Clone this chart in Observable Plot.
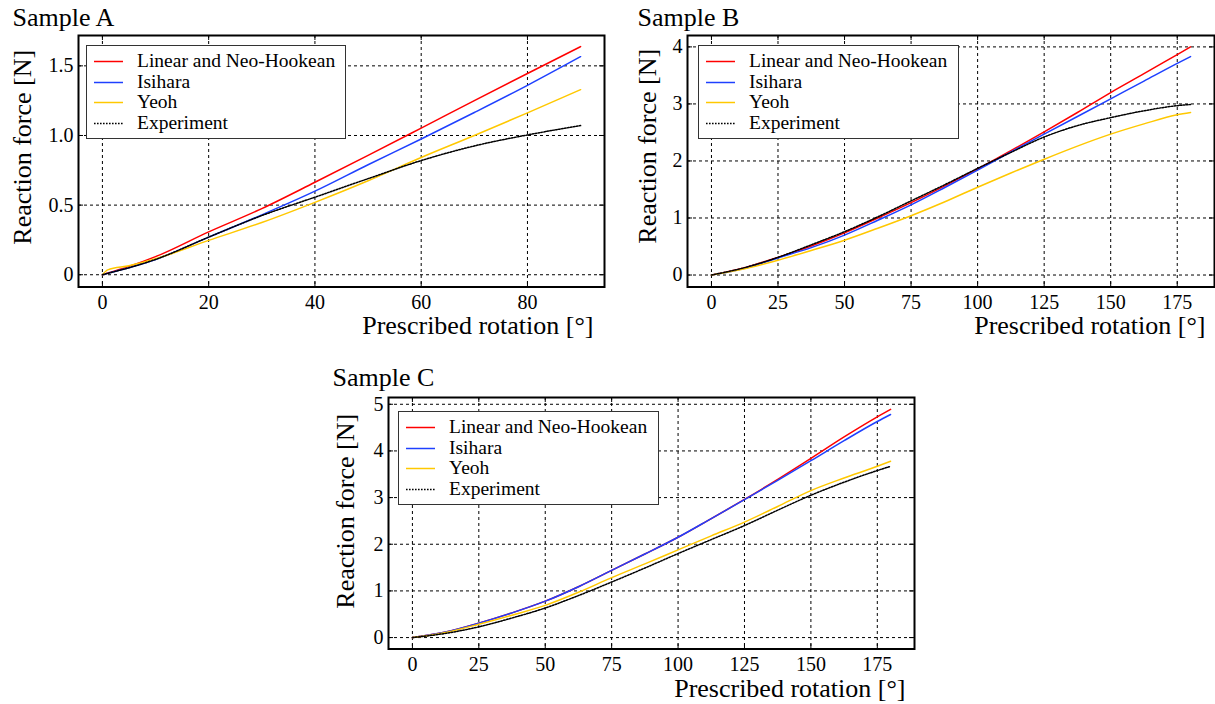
<!DOCTYPE html>
<html>
<head>
<meta charset="utf-8">
<script src="https://cdn.jsdelivr.net/npm/d3@7"></script>
<script src="https://cdn.jsdelivr.net/npm/@observablehq/plot@0.6"></script>
<style>
  body { margin: 0; background: #fff; }
  #wrap { position: relative; width: 1215px; height: 704px; overflow: hidden; font-family: "Liberation Serif", serif; }
  .panel { position: absolute; }
  .legend { position: absolute; background: #fff; border: 1px solid #333; box-sizing: border-box; }
  .legend .row { position: absolute; height: 20px; left: 0; right: 0; }
  .legend .row svg { position: absolute; top: 0; }
  .legend .row span { position: absolute; top: 0; line-height: 20px; font-size: 19.5px; color: #000; white-space: nowrap; }
</style>
</head>
<body>
<div id="wrap"></div>
<script>
// ---------------- data ----------------
const seriesNames = ["Linear and Neo-Hookean", "Isihara", "Yeoh", "Experiment"];
const seriesColors = ["#ff0000", "#1e40ff", "#ffc800", "#000000"];

// Sample A
const rotationA   = [0, 1, 5, 10, 20, 30, 40, 50, 60, 70, 80, 90];
const linearA     = [0, 0.012, 0.06, 0.13, 0.308, 0.475, 0.664, 0.857, 1.053, 1.25, 1.445, 1.638];
const isiharaA    = [0, 0.01, 0.05, 0.11, 0.27, 0.43, 0.60, 0.79, 0.975, 1.165, 1.36, 1.566];
const yeohA       = [0, 0.035, 0.065, 0.115, 0.247, 0.375, 0.52, 0.675, 0.842, 1.0, 1.162, 1.329];
const experimentA = [0, 0.01, 0.05, 0.11, 0.27, 0.425, 0.557, 0.69, 0.82, 0.925, 1.004, 1.071];

// Sample B
const rotationB   = [0, 12.5, 25, 37.5, 50, 62.5, 75, 87.5, 100, 112.5, 125, 137.5, 150, 162.5, 175, 180];
const linearB     = [0, 0.13, 0.31, 0.51, 0.74, 1.0, 1.27, 1.56, 1.86, 2.18, 2.51, 2.85, 3.20, 3.53, 3.866, 4.0];
const isiharaB    = [0, 0.12, 0.30, 0.48, 0.70, 0.96, 1.23, 1.53, 1.84, 2.16, 2.47, 2.78, 3.09, 3.40, 3.71, 3.83];
const yeohB       = [0, 0.11, 0.26, 0.43, 0.61, 0.82, 1.04, 1.28, 1.54, 1.79, 2.03, 2.26, 2.47, 2.65, 2.81, 2.85];
const experimentB = [0, 0.13, 0.31, 0.53, 0.76, 1.02, 1.30, 1.58, 1.87, 2.15, 2.42, 2.62, 2.76, 2.88, 2.97, 2.99];

// Sample C
const rotationC   = [0, 12.5, 25, 37.5, 50, 62.5, 75, 87.5, 100, 112.5, 125, 137.5, 150, 162.5, 175, 180];
const linearC     = [0, 0.12, 0.31, 0.53, 0.78, 1.09, 1.44, 1.79, 2.15, 2.55, 2.96, 3.39, 3.84, 4.30, 4.73, 4.89];
const isiharaC    = [0, 0.12, 0.31, 0.53, 0.78, 1.09, 1.44, 1.79, 2.15, 2.55, 2.955, 3.37, 3.79, 4.22, 4.63, 4.78];
const yeohC       = [0, 0.11, 0.285, 0.48, 0.69, 0.97, 1.285, 1.58, 1.88, 2.18, 2.475, 2.81, 3.15, 3.42, 3.67, 3.78];
const experimentC = [0, 0.09, 0.23, 0.42, 0.634, 0.90, 1.19, 1.49, 1.80, 2.10, 2.40, 2.73, 3.05, 3.33, 3.58, 3.67];

// ticks
const xTicksA = [0, 20, 40, 60, 80];
const yTicksA = [0, 0.5, 1.0, 1.5];
const xTicksB = [0, 25, 50, 75, 100, 125, 150, 175];
const yTicksB = [0, 1, 2, 3, 4];
const xTicksC = [0, 25, 50, 75, 100, 125, 150, 175];
const yTicksC = [0, 1, 2, 3, 4, 5];

const titles = ["Sample A", "Sample B", "Sample C"];
const xLabel = "Prescribed rotation [°]";
const yLabel = "Reaction force [N]";

// ---------------- layout ----------------
const FONT = "'Liberation Serif', serif";
const TICK = 5;
const panels = [
  { title: titles[0], rotation: rotationA, series: [linearA, isiharaA, yeohA, experimentA],
    xTicks: xTicksA, yTicks: yTicksA, xDomain: [-4.5, 94.5], yDomain: [-0.088, 1.718],
    yFmt: d => d === 0 ? "0" : d.toFixed(1),
    box: { left: 0, top: 0, width: 620, height: 345 },
    margin: { left: 78, top: 35, right: 16, bottom: 58.5 },
    titlePos: { dx: -66, dy: -10 }, yLabelPos: { dx: -48, dy: -14 }, xLabelPos: { dx: -11, dy: 46.5 },
    legend: { left: 86, top: 45, width: 260, height: 94 } },
  { title: titles[1], rotation: rotationB, series: [linearB, isiharaB, yeohB, experimentB],
    xTicks: xTicksB, yTicks: yTicksB, xDomain: [-9, 189], yDomain: [-0.21, 4.2],
    yFmt: d => String(d),
    box: { left: 620, top: 0, width: 595, height: 345 },
    margin: { left: 67, top: 35, right: 1, bottom: 58.5 },
    titlePos: { dx: -50, dy: -10 }, yLabelPos: { dx: -32, dy: -15 }, xLabelPos: { dx: -9, dy: 46.5 },
    legend: { left: 698, top: 45, width: 261, height: 94 } },
  { title: titles[2], rotation: rotationC, series: [linearC, isiharaC, yeohC, experimentC],
    xTicks: xTicksC, yTicks: yTicksC, xDomain: [-9, 189], yDomain: [-0.245, 5.145],
    yFmt: d => String(d),
    box: { left: 320, top: 360, width: 600, height: 344 },
    margin: { left: 68, top: 37, right: 6, bottom: 55.5 },
    titlePos: { dx: -56, dy: -12 }, yLabelPos: { dx: -35, dy: -12 }, xLabelPos: { dx: -9, dy: 47.5 },
    legend: { left: 398, top: 411, width: 261, height: 94 } }
];

const wrap = document.getElementById("wrap");

function makePanel(p) {
  const fw = p.box.width - p.margin.left - p.margin.right;
  const fh = p.box.height - p.margin.top - p.margin.bottom;
  const lineMarks = p.series.map((vals, i) =>
    Plot.line(p.rotation.map((r, j) => ({ r, f: vals[j] })), {
      x: "r", y: "f",
      stroke: seriesColors[i],
      strokeWidth: 1.5,
      strokeDasharray: i === 3 ? "1.6,1.4" : null,
      curve: "monotone-x"
    })
  );
  const grid = { stroke: "#000", strokeOpacity: 1, strokeWidth: 1, strokeDasharray: "3,3" };
  const tk = { stroke: "#000", strokeWidth: 1 };
  const chart = Plot.plot({
    width: p.box.width,
    height: p.box.height,
    marginLeft: p.margin.left, marginTop: p.margin.top,
    marginRight: p.margin.right, marginBottom: p.margin.bottom,
    style: { fontFamily: FONT, background: "transparent", overflow: "visible" },
    x: { domain: p.xDomain },
    y: { domain: p.yDomain },
    marks: [
      Plot.gridX(p.xTicks, grid),
      Plot.gridY(p.yTicks, grid),
      // inward ticks on all four sides
      Plot.tickX(p.xTicks, { x: d => d, insetTop: fh - TICK, ...tk }),
      Plot.tickX(p.xTicks, { x: d => d, insetBottom: fh - TICK, ...tk }),
      Plot.tickY(p.yTicks, { y: d => d, insetRight: fw - TICK, ...tk }),
      Plot.tickY(p.yTicks, { y: d => d, insetLeft: fw - TICK, ...tk }),
      ...lineMarks,
      Plot.axisX(p.xTicks, { anchor: "bottom", tickSize: 0, tickPadding: 7.5, fontSize: 20, label: null, color: "#000" }),
      Plot.axisY(p.yTicks, { anchor: "left", tickSize: 0, tickPadding: 5, fontSize: 20, label: null, color: "#000", tickFormat: p.yFmt }),
      Plot.frame({ stroke: "#000", strokeWidth: 2 }),
      Plot.text([p.title], { frameAnchor: "top-left", textAnchor: "start", lineAnchor: "bottom",
        dx: p.titlePos.dx, dy: p.titlePos.dy, fontSize: 26, fill: "#000" }),
      Plot.text([xLabel], { frameAnchor: "bottom-right", textAnchor: "end", lineAnchor: "bottom",
        dx: p.xLabelPos.dx, dy: p.xLabelPos.dy, fontSize: 26, fill: "#000" }),
      Plot.text([yLabel], { frameAnchor: "left", textAnchor: "middle", lineAnchor: "bottom", rotate: -90,
        dx: p.yLabelPos.dx, dy: p.yLabelPos.dy, fontSize: 26, fill: "#000" })
    ]
  });
  chart.querySelectorAll("text").forEach(t => t.style.fontFamily = FONT);
  const holder = document.createElement("div");
  holder.className = "panel";
  holder.style.left = p.box.left + "px";
  holder.style.top = p.box.top + "px";
  holder.appendChild(chart);
  wrap.appendChild(holder);

  // legend
  const lg = document.createElement("div");
  lg.className = "legend";
  Object.assign(lg.style, { left: p.legend.left + "px", top: p.legend.top + "px",
    width: p.legend.width + "px", height: p.legend.height + "px" });
  seriesNames.forEach((name, i) => {
    const row = document.createElement("div");
    row.className = "row";
    row.style.top = (5 + i * 20.5) + "px";
    const svg = d3.create("svg").attr("width", 30).attr("height", 20).style("left", "7px");
    svg.append("line").attr("x1", 0).attr("x2", 29).attr("y1", 10.5).attr("y2", 10.5)
      .attr("stroke", seriesColors[i]).attr("stroke-width", 1.5)
      .attr("stroke-dasharray", i === 3 ? "1.6,1.4" : null);
    row.appendChild(svg.node());
    const sp = document.createElement("span");
    sp.style.left = "50px";
    sp.style.fontFamily = FONT;
    sp.textContent = name;
    row.appendChild(sp);
    lg.appendChild(row);
  });
  wrap.appendChild(lg);
}

panels.forEach(makePanel);
</script>
</body>
</html>
